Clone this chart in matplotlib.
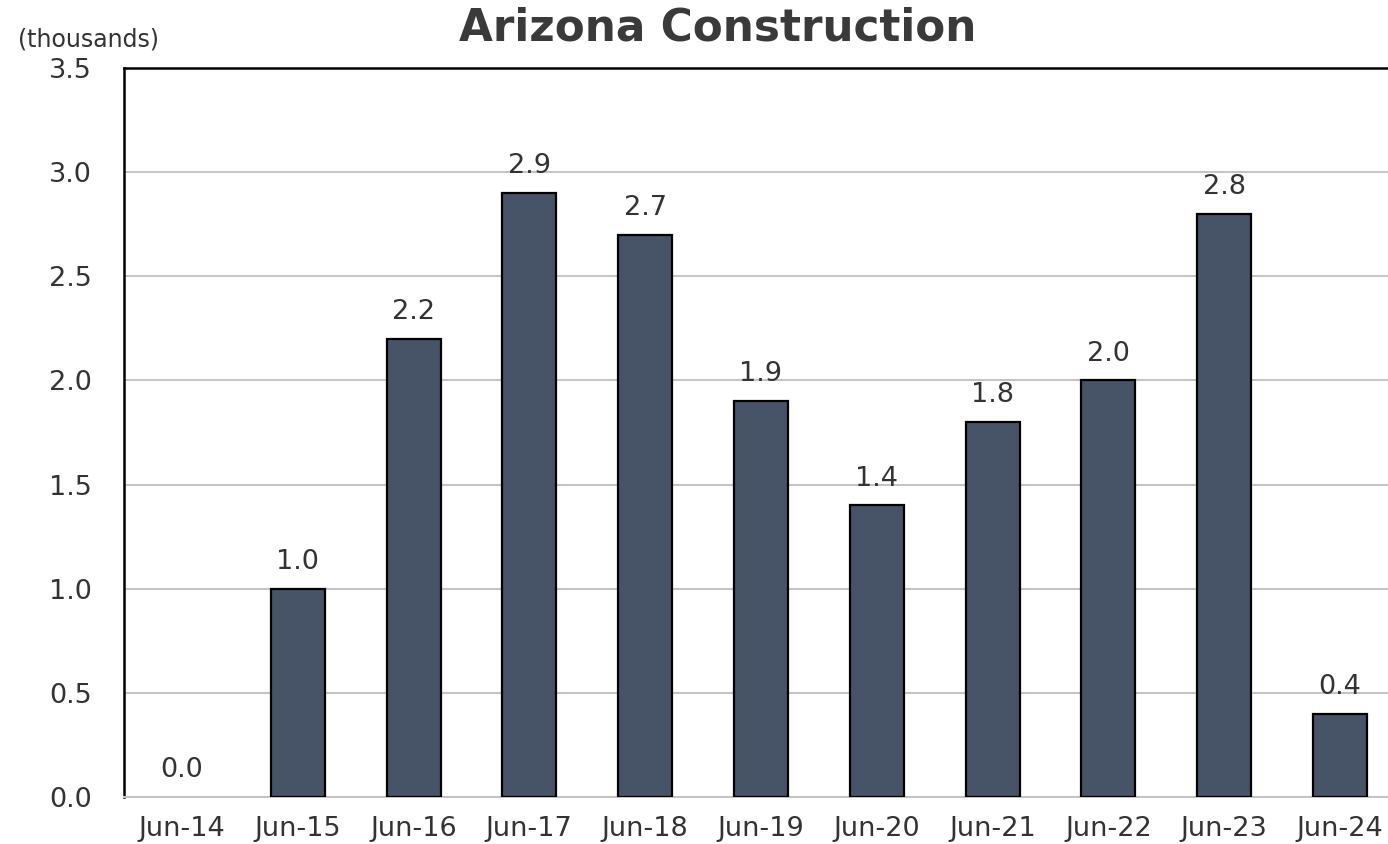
import matplotlib
matplotlib.use("Agg")
import matplotlib.pyplot as plt

categories = ["Jun-14", "Jun-15", "Jun-16", "Jun-17", "Jun-18", "Jun-19",
              "Jun-20", "Jun-21", "Jun-22", "Jun-23", "Jun-24"]
values = [0.0, 1.0, 2.2, 2.9, 2.7, 1.9, 1.4, 1.8, 2.0, 2.8, 0.4]
yticks = [0.0, 0.5, 1.0, 1.5, 2.0, 2.5, 3.0, 3.5]

plt.rcParams['font.family'] = ['DejaVu Sans']
text_color = "#333333"

fig = plt.figure(figsize=(13.88, 8.44), dpi=100)
ax = fig.add_axes([124/1388, 47/844, (1398-124)/1388, (797-68)/844])

x = list(range(len(categories)))
edges = ["black" if v != 0 else "none" for v in values]
ax.bar(x, values, width=0.466, color="#475366", edgecolor=edges, linewidth=1.6, zorder=3)

for xi, v in zip(x, values):
    ax.annotate(f"{v:.1f}", (xi, v), xytext=(0, 10), textcoords="offset points",
                ha="center", va="bottom", fontsize=19.5, color=text_color, zorder=4)

ax.set_xlim(-0.5, len(categories) - 0.5)
ax.set_ylim(0, 3.5)
ax.set_yticks(yticks)
ax.set_yticklabels([f"{t:.1f}" for t in yticks])
ax.set_xticks(x)
ax.set_xticklabels(categories)
ax.tick_params(axis="both", length=0, labelsize=19.5, colors=text_color)
ax.tick_params(axis="y", pad=23)
ax.tick_params(axis="x", pad=14)

ax.yaxis.grid(True, color="#c4c4c4", linewidth=1.5, zorder=0)
ax.set_axisbelow(True)

ax.spines["left"].set_color("black")
ax.spines["left"].set_linewidth(1.8)
ax.spines["top"].set_color("black")
ax.spines["top"].set_linewidth(1.8)
ax.spines["right"].set_visible(False)
ax.spines["bottom"].set_color("#c4c4c4")
ax.spines["bottom"].set_linewidth(1.5)

fig.text(718/1388, 1 - 28/844, "Arizona Construction", ha="center", va="center",
         fontsize=31.5, fontweight="bold", color="#3a3a3a")
fig.text(88/1388, 1 - 40/844, "(thousands)", ha="center", va="center",
         fontsize=17, color=text_color)

fig.savefig("out.png", dpi=100)
